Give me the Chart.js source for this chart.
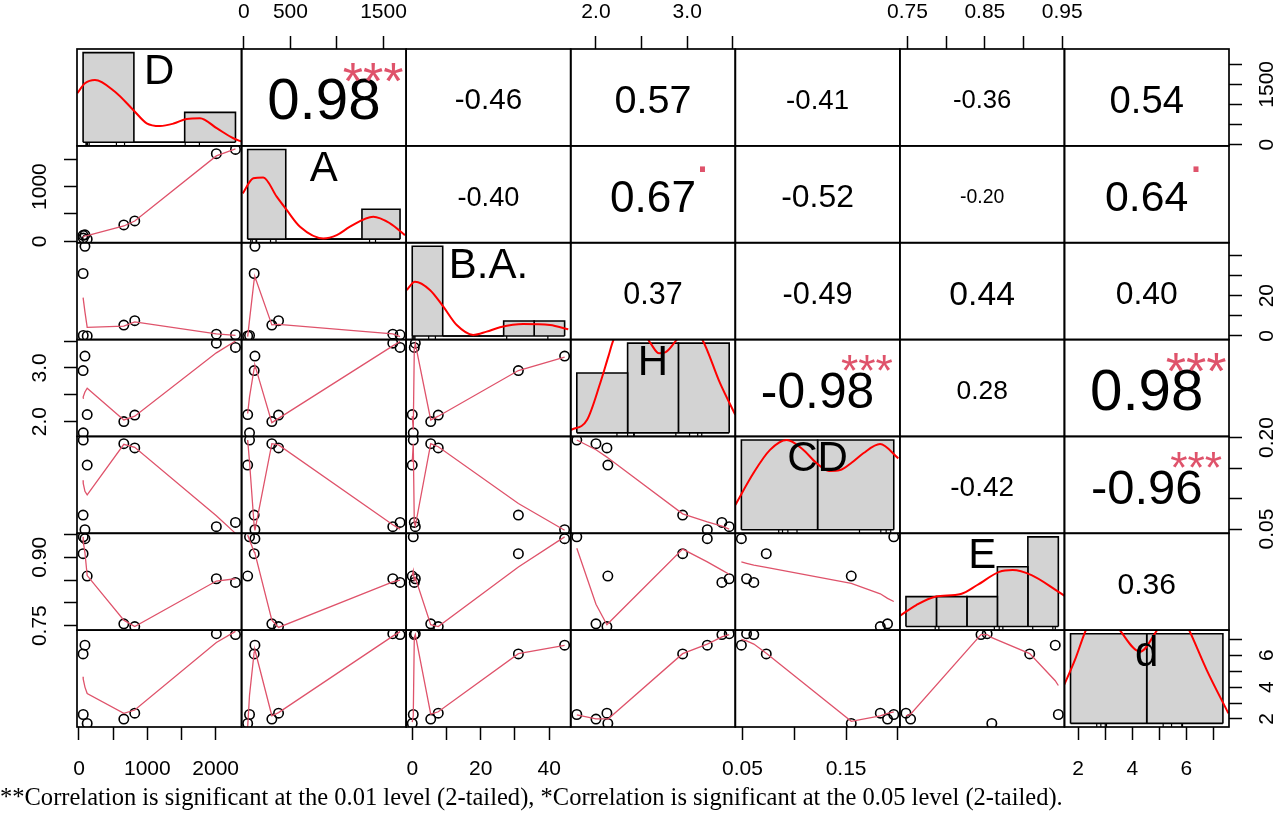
<!DOCTYPE html>
<html>
<head>
<meta charset="utf-8">
<title>Correlation chart</title>
<script src="https://cdn.jsdelivr.net/npm/chart.js@4.4.1/dist/chart.umd.min.js"></script>
<style>
  html, body { margin: 0; padding: 0; background: #fff; }
  #wrap { position: relative; width: 1280px; height: 826px; overflow: hidden; }
  #pairs { position: absolute; left: 0; top: 0; }
  #note { position: absolute; left: 0; top: 785px; white-space: nowrap; line-height: 1;
          font-family: "Liberation Serif", "DejaVu Serif", serif; font-size: 21px; color: #000; }
</style>
</head>
<body>
<div id="wrap">
  <canvas id="pairs" width="1280" height="826"></canvas>
  <div id="note">**Correlation is significant at the 0.01 level (2-tailed), *Correlation is significant at the 0.05 level (2-tailed).</div>
</div>
<script>
// ---- values ----
const varNames = ['D', 'A', 'B.A.', 'H', 'CD', 'E', 'd'];

// 8 samples, same order in every array
const obsD  = [87, 60, 62, 120, 656, 816, 2010, 2290];
const obsA  = [118, 110, 60, 40, 300, 372, 1600, 1678];
const obsBA = [44.5, 31.0, 0.3, 0.0, 5.4, 7.6, 0.9, 0.6];
const obsH  = [3.22, 2.95, 1.79, 2.13, 2.00, 2.12, 3.46, 3.38];
const obsCD = [0.049, 0.073, 0.196, 0.155, 0.190, 0.183, 0.054, 0.061];
const obsE  = [0.941, 0.908, 0.945, 0.859, 0.754, 0.748, 0.853, 0.845];
const obsd  = [6.63, 6.08, 2.28, 1.72, 1.99, 2.36, 7.35, 7.30];

// histograms on the diagonal
const breaksD  = [0, 1000, 2000, 3000];             const countsD  = [6, 0, 2];
const breaksA  = [0, 500, 1000, 1500, 2000];        const countsA  = [6, 0, 0, 2];
const breaksBA = [0, 10, 20, 30, 40, 50];           const countsBA = [6, 0, 0, 1, 1];
const breaksH  = [1, 2, 3, 4];                      const countsH  = [2, 3, 3];
const breaksCD = [0, 0.1, 0.2];                     const countsCD = [4, 4];
const breaksE  = [0.70, 0.75, 0.80, 0.85, 0.90, 0.95]; const countsE = [1, 1, 1, 2, 3];
const breaksd  = [0, 5, 10];                        const countsd  = [4, 4];

// red density curves (height in count units)
const densXD  = [-114, 37, 234, 628, 988, 1252, 1514, 1780, 2039, 2301, 2630, 2957, 3122];
const densYD  = [3.28, 3.95, 4.17, 3.38, 2.16, 1.27, 1.09, 1.25, 1.56, 1.61, 0.94, 0.27, 0.04];
const densXA  = [-65, 74, 205, 381, 512, 687, 993, 1169, 1343, 1649, 1868, 2065];
const densYA  = [3.06, 4.07, 4.13, 2.84, 1.95, 0.83, 0.05, 0.27, 0.83, 1.50, 1.06, 0.27];
const densXBA = [-1.8, 0.9, 5.8, 10.2, 14.6, 20.0, 24.4, 28.8, 36.4, 45.2, 51.2];
const densYBA = [3.08, 3.63, 3.08, 1.96, 0.73, 0.07, 0.29, 0.58, 0.80, 0.73, 0.45];
const densXH  = [0.88, 1.2, 1.46, 1.62, 1.72, 1.9, 2.15, 2.45, 2.62, 2.75, 2.97, 3.2, 3.46, 3.82, 4.12];
const densYH  = [0.09, 0.43, 1.66, 2.55, 3.10, 3.55, 3.75, 3.0, 2.66, 2.7, 3.12, 3.55, 3.15, 1.66, 0.6];
const densXCD = [-0.008, 0.0157, 0.0376, 0.0595, 0.08, 0.0989, 0.115, 0.1294, 0.145, 0.160, 0.182, 0.206];
const densYCD = [1.10, 2.52, 3.56, 4.00, 3.6, 2.96, 2.62, 2.66, 3.0, 3.41, 3.82, 3.18];
const densXE  = [0.688, 0.717, 0.748, 0.790, 0.817, 0.853, 0.875, 0.906, 0.946, 0.962];
const densYE  = [0.33, 0.72, 1.00, 1.09, 1.39, 1.83, 1.89, 1.72, 1.22, 1.0];
const densXd  = [-0.51, 0.29, 1.06, 2.0, 3.14, 4.56, 5.76, 6.9, 7.73, 8.94, 10.36];
const densYd  = [1.57, 2.83, 4.24, 5.19, 4.24, 3.20, 4.24, 5.3, 4.24, 2.38, 0.45];

// smoothing line in the lower panels: fitted y for each sample (name = y_x)
const fitA_D   = [100, 75, 77, 105, 280, 370, 1560, 1690];
const fitBA_D  = [12, 19, 18.5, 4.3, 4.9, 7.0, 1.0, 0.3];
const fitH_D   = [2.55, 2.43, 2.46, 2.62, 2.03, 2.10, 3.28, 3.50];
const fitCD_D  = [0.112, 0.130, 0.125, 0.106, 0.189, 0.184, 0.072, 0.043];
const fitE_D   = [0.910, 0.945, 0.935, 0.860, 0.762, 0.748, 0.848, 0.853];
const fitd_D   = [4.0, 4.65, 4.5, 3.6, 2.35, 2.56, 6.8, 7.5];
const fitBA_A  = [29.4, 28, 8, -0.3, 5.5, 5.8, 1.0, -0.3];
const fitH_A   = [3.05, 2.99, 2.46, 2.15, 1.98, 2.06, 3.41, 3.49];
const fitCD_A  = [0.048, 0.055, 0.160, 0.196, 0.190, 0.188, 0.057, 0.050];
const fitE_A   = [0.909, 0.912, 0.938, 0.949, 0.762, 0.746, 0.846, 0.850];
const fitd_A   = [6.33, 6.2, 3.5, 1.5, 2.2, 2.4, 7.2, 7.48];
const fitH_BA  = [3.20, 2.95, 1.85, 2.10, 2.03, 2.10, 3.45, 3.35];
const fitCD_BA = [0.048, 0.092, 0.190, 0.160, 0.190, 0.185, 0.055, 0.060];
const fitE_BA  = [0.945, 0.879, 0.870, 0.860, 0.752, 0.748, 0.855, 0.850];
const fitd_BA  = [6.62, 6.1, 2.2, 1.8, 2.3, 2.45, 7.3, 7.1];
const fitCD_H  = [0.062, 0.075, 0.196, 0.167, 0.180, 0.168, 0.050, 0.055];
const fitE_H   = [0.890, 0.918, 0.920, 0.754, 0.797, 0.752, 0.863, 0.872];
const fitd_H   = [6.7, 6.1, 2.25, 1.98, 2.0, 2.0, 7.3, 7.15];
const fitE_CD  = [0.890, 0.878, 0.803, 0.843, 0.810, 0.820, 0.887, 0.883];
const fitd_CD  = [7.0, 6.12, 2.45, 1.85, 2.35, 2.2, 6.9, 6.7];
const fitd_E   = [4.4, 6.1, 4.1, 7.1, 2.3, 2.2, 7.3, 7.3];

// upper panels: correlation and significance mark, row by row
const corRows = [
  [0.98, -0.46, 0.57, -0.41, -0.36, 0.54],
  [-0.40, 0.67, -0.52, -0.20, 0.64],
  [0.37, -0.49, 0.44, 0.40],
  [-0.98, 0.28, 0.98],
  [-0.42, -0.96],
  [0.36]
];
const sigRows = [
  ['***', '', '', '', '', ''],
  ['', '.', '', '', '.'],
  ['', '', '', ''],
  ['***', '', '***'],
  ['', '***'],
  ['']
];

// axis ticks (x: bottom/top, y: left/right)
const xTickVals = [[0, 500, 1000, 1500, 2000], [0, 500, 1000, 1500], [0, 10, 20, 30, 40],
                   [2.0, 2.5, 3.0, 3.5], [0.05, 0.10, 0.15, 0.20], [0.75, 0.80, 0.85, 0.90, 0.95], [2, 3, 4, 5, 6, 7]];
const xTickText = [['0', '', '1000', '', '2000'], ['0', '500', '', '1500'], ['0', '', '20', '', '40'],
                   ['2.0', '', '3.0', ''], ['0.05', '', '0.15', ''], ['0.75', '', '0.85', '', '0.95'], ['2', '', '4', '', '6', '']];
const yTickVals = xTickVals;
const yTickText = [['0', '', '', '1500', ''], ['0', '', '1000', ''], ['0', '', '20', '', ''],
                   ['2.0', '', '3.0', ''], ['0.05', '', '', '0.20'], ['0.75', '', '', '0.90', ''], ['2', '', '4', '', '6', '']];

// ---- build ----
const obs = [obsD, obsA, obsBA, obsH, obsCD, obsE, obsd];
const histBreaks = [breaksD, breaksA, breaksBA, breaksH, breaksCD, breaksE, breaksd];
const histCounts = [countsD, countsA, countsBA, countsH, countsCD, countsE, countsd];
const densX = [densXD, densXA, densXBA, densXH, densXCD, densXE, densXd];
const densY = [densYD, densYA, densYBA, densYH, densYCD, densYE, densYd];
const fitGrid = [
  [],
  [fitA_D],
  [fitBA_D, fitBA_A],
  [fitH_D, fitH_A, fitH_BA],
  [fitCD_D, fitCD_A, fitCD_BA, fitCD_H],
  [fitE_D, fitE_A, fitE_BA, fitE_H, fitE_CD],
  [fitd_D, fitd_A, fitd_BA, fitd_H, fitd_CD, fitd_E]
];

const N = 7;
const GRID = { left: 77, top: 49, width: 1152, height: 678 };
const colW = GRID.width / N, rowH = GRID.height / N;
const AX = 60;
const FONT = '"Liberation Sans", Arial, sans-serif';
const SMOOTH = '#DF536B';

const padRange = (lo, hi) => [lo - 0.04 * (hi - lo), hi + 0.04 * (hi - lo)];

const measure = document.createElement('canvas').getContext('2d');
function textW(t, px) { measure.font = px + 'px ' + FONT; return measure.measureText(t).width; }

const tickGrid = { drawOnChartArea: false, drawTicks: true, tickLength: 13, tickColor: '#000', tickWidth: 1.5 };
const tickFont = { family: FONT, size: 21 };

const scales = {};
for (let k = 0; k < N; k++) {
  const [lo, hi] = padRange(Math.min(...obs[k]), Math.max(...obs[k]));
  const onTop = k % 2 === 1;
  scales['x' + k] = {
    type: 'linear', axis: 'x', position: onTop ? 'top' : 'bottom', min: lo, max: hi,
    border: { display: false }, grid: tickGrid,
    ticks: { autoSkip: false, color: '#000', font: tickFont, padding: onTop ? 11 : 17,
             minRotation: 0, maxRotation: 0, callback: (v, i) => xTickText[k][i] },
    afterBuildTicks: s => { s.ticks = xTickVals[k].map(v => ({ value: v })); }
  };
  const onLeft = k % 2 === 1;
  const widest = Math.max(...yTickText[k].map(t => textW(t, 21)));
  scales['y' + k] = {
    type: 'linear', axis: 'y', position: onLeft ? 'left' : 'right', min: lo, max: hi,
    border: { display: false }, grid: tickGrid,
    ticks: { autoSkip: false, color: '#000', font: tickFont, crossAlign: 'center',
             minRotation: 90, maxRotation: 90,
             padding: Math.max(0, (onLeft ? 24 : 25.5) - widest / 2),
             callback: (v, i) => yTickText[k][i] },
    afterBuildTicks: s => { s.ticks = yTickVals[k].map(v => ({ value: v })); }
  };
  const b = histBreaks[k];
  const [hlo, hhi] = padRange(b[0], b[b.length - 1]);
  const cmax = Math.max(...histCounts[k]);
  scales['hx' + k] = { type: 'linear', axis: 'x', position: 'bottom', display: false, min: hlo, max: hhi };
  scales['hy' + k] = { type: 'linear', axis: 'y', position: 'left', display: false, min: -0.04 * cmax, max: 1.04 * cmax };
}

const datasets = [];
// lower panels: points + smoother
for (let i = 0; i < N; i++) {
  for (let j = 0; j < i; j++) {
    const xs = obs[j], ys = obs[i], fit = fitGrid[i][j];
    datasets.push({
      data: xs.map((v, n) => ({ x: v, y: ys[n] })),
      xAxisID: 'x' + j, yAxisID: 'y' + i, order: 2,
      pointStyle: 'circle', pointRadius: 4.7, pointBorderWidth: 1.6,
      pointBorderColor: '#000', pointBackgroundColor: 'rgba(0,0,0,0)'
    });
    datasets.push({
      data: xs.map((v, n) => ({ x: v, y: fit[n] })).sort((a, b) => a.x - b.x),
      xAxisID: 'x' + j, yAxisID: 'y' + i, order: 1,
      showLine: true, borderColor: SMOOTH, borderWidth: 1.3, pointRadius: 0, tension: 0
    });
  }
}
// diagonal: histogram, density, rug
for (let k = 0; k < N; k++) {
  const b = histBreaks[k], c = histCounts[k];
  const ids = { xAxisID: 'hx' + k, yAxisID: 'hy' + k };
  c.forEach((cnt, n) => {
    datasets.push({
      ...ids, order: 5, showLine: true, fill: 'origin', pointRadius: 0, tension: 0,
      backgroundColor: '#D3D3D3', borderColor: '#000', borderWidth: 1.6,
      data: [{ x: b[n], y: 0 }, { x: b[n], y: cnt }, { x: b[n + 1], y: cnt }, { x: b[n + 1], y: 0 }]
    });
  });
  datasets.push({
    ...ids, order: 4, showLine: true, pointRadius: 0, borderColor: '#000', borderWidth: 1.6,
    data: [{ x: b[0], y: 0 }, { x: b[b.length - 1], y: 0 }]
  });
  datasets.push({
    ...ids, order: 3, showLine: true, pointRadius: 0, borderColor: '#FF0000', borderWidth: 2,
    cubicInterpolationMode: 'monotone',
    data: densX[k].map((x, n) => ({ x, y: densY[k][n] }))
  });
  datasets.push({
    ...ids, order: 3, pointStyle: 'line', pointRotation: 90, pointRadius: 3.5,
    pointBorderColor: '#000', pointBorderWidth: 1.2,
    data: obs[k].map(v => ({ x: v, y: scales['hy' + k].min }))
  });
}

function inkText(ctx, txt, cx, cy, px, color) {
  ctx.font = px + 'px ' + FONT;
  ctx.fillStyle = color;
  ctx.textAlign = 'center';
  ctx.textBaseline = 'alphabetic';
  const m = ctx.measureText(txt);
  ctx.fillText(txt, cx, cy + (m.actualBoundingBoxAscent - m.actualBoundingBoxDescent) / 2);
}

function place(scale, box) {
  Object.assign(scale, box);
  scale.width = box.right - box.left;
  scale.height = box.bottom - box.top;
  scale.configure();
}

const pairsPanels = {
  id: 'pairsPanels',
  afterLayout(chart) {
    const gBottom = GRID.top + GRID.height, gRight = GRID.left + GRID.width;
    for (let k = 0; k < N; k++) {
      const l = GRID.left + k * colW, r = l + colW;
      const t = GRID.top + k * rowH, b = t + rowH;
      place(chart.scales['x' + k], k % 2 ? { left: l, right: r, top: GRID.top - AX, bottom: GRID.top }
                                         : { left: l, right: r, top: gBottom, bottom: gBottom + AX });
      place(chart.scales['y' + k], k % 2 ? { left: GRID.left - AX, right: GRID.left, top: t, bottom: b }
                                         : { left: gRight, right: gRight + AX, top: t, bottom: b });
      place(chart.scales['hx' + k], { left: l, right: r, top: t, bottom: b });
      place(chart.scales['hy' + k], { left: l, right: r, top: t, bottom: b });
    }
    chart.chartArea = { left: GRID.left, top: GRID.top, right: gRight, bottom: gBottom,
                        width: GRID.width, height: GRID.height };
  },
  beforeDatasetDraw(chart, args) {
    const { xScale, yScale } = args.meta;
    const ctx = chart.ctx;
    ctx.save();
    ctx.beginPath();
    ctx.rect(xScale.left, yScale.top, xScale.right - xScale.left, yScale.bottom - yScale.top);
    ctx.clip();
  },
  afterDatasetDraw(chart) {
    chart.ctx.restore();
  },
  afterDatasetsDraw(chart) {
    const ctx = chart.ctx;
    const panel = (i, j) => {
      const xs = chart.scales['x' + j], ys = chart.scales['y' + i];
      return { l: xs.left, r: xs.right, t: ys.top, b: ys.bottom, w: xs.right - xs.left, h: ys.bottom - ys.top };
    };
    ctx.save();
    for (let k = 0; k < N; k++) {
      const p = panel(k, k);
      inkText(ctx, varNames[k], p.l + p.w / 2, p.t + 20.5, 42, '#000');
    }
    for (let i = 0; i < N; i++) {
      for (let j = i + 1; j < N; j++) {
        const p = panel(i, j);
        const r = corRows[i][j - i - 1];
        const txt = r.toFixed(2);
        const base = 0.7 * p.w / (textW(txt, 100) / 100);
        inkText(ctx, txt, p.l + p.w / 2, p.t + p.h / 2 + 2, base * (Math.abs(r) + 0.3) / 1.3, '#000');
        const sig = sigRows[i][j - i - 1];
        if (sig) inkText(ctx, sig, p.l + 0.8 * p.w, p.b - 0.8 * p.h + 4, base * 0.88, SMOOTH);
      }
    }
    ctx.strokeStyle = '#000';
    ctx.lineWidth = 1.7;
    for (let i = 0; i < N; i++) {
      for (let j = 0; j < N; j++) {
        const p = panel(i, j);
        ctx.strokeRect(p.l, p.t, p.w, p.h);
      }
    }
    ctx.restore();
  }
};

new Chart(document.getElementById('pairs'), {
  type: 'scatter',
  data: { datasets },
  options: {
    responsive: false,
    animation: false,
    events: [],
    layout: { padding: 0 },
    plugins: { legend: { display: false }, tooltip: { enabled: false } },
    scales
  },
  plugins: [pairsPanels]
});

// footnote fitted to the width it has in the figure
const note = document.getElementById('note');
measure.font = '100px "Liberation Serif", "DejaVu Serif", serif';
note.style.fontSize = (100 * 1063 / measure.measureText(note.textContent).width).toFixed(2) + 'px';
</script>
</body>
</html>
